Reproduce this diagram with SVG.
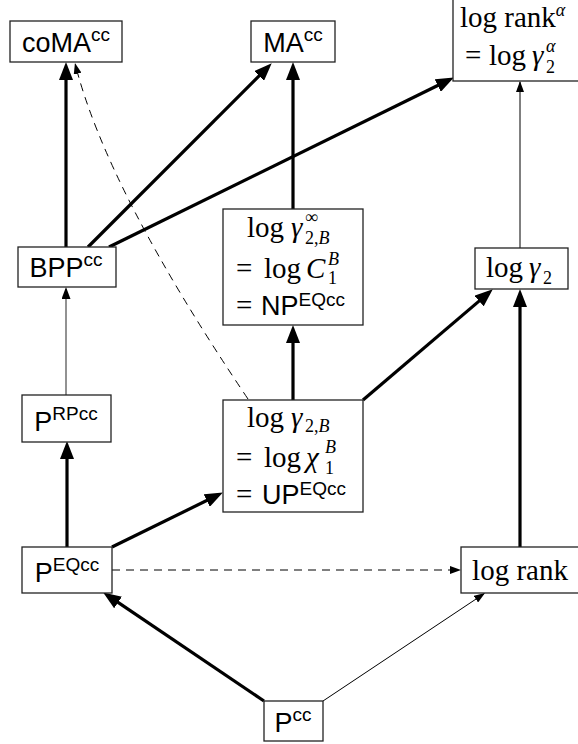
<svg xmlns="http://www.w3.org/2000/svg" width="578" height="744" viewBox="0 0 578 744">
<defs>
<style>
.box{fill:#fff;stroke:#222;stroke-width:1.3}
.sf{font-family:"Liberation Sans",Arial,sans-serif;font-size:27px;fill:#000}
.sup{font-size:19px}
.m{font-family:"Liberation Serif","Times New Roman",serif;font-size:29px;fill:#000}
.it{font-style:italic}
.s{font-size:18px}
.thick{stroke:#000;stroke-width:3.2;fill:none}
.thin{stroke:#000;stroke-width:1;fill:none}
.gray{stroke:#777;stroke-width:1.6;fill:none}
.dash{stroke:#000;stroke-width:1;fill:none;stroke-dasharray:8,6}
</style>
<marker id="ah" markerUnits="userSpaceOnUse" markerWidth="18" markerHeight="14" refX="13" refY="7" orient="auto"><path d="M0,0 L18,7 L0,14 z" fill="#000"/></marker>
<marker id="at" markerUnits="userSpaceOnUse" markerWidth="11" markerHeight="8" refX="10" refY="4" orient="auto"><path d="M0,0 L11,4 L0,8 z" fill="#000"/></marker>
<marker id="ag" markerUnits="userSpaceOnUse" markerWidth="12" markerHeight="9" refX="10" refY="4.5" orient="auto"><path d="M0,0 L12,4.5 L0,9 z" fill="#000"/></marker>
</defs>
<g id="connectors">
<line class="thick" x1="66" y1="247" x2="66" y2="67" marker-end="url(#ah)"/>
<line class="thick" x1="88" y1="247" x2="268.2" y2="66.8" marker-end="url(#ah)"/>
<line class="thick" x1="109" y1="247" x2="449.4" y2="79.8" marker-end="url(#ah)"/>
<line class="thick" x1="293" y1="209" x2="293" y2="67" marker-end="url(#ah)"/>
<line class="thin" x1="520" y1="248" x2="520" y2="82" marker-end="url(#at)"/>
<line class="gray" x1="66" y1="395" x2="66" y2="289" marker-end="url(#ag)"/>
<line class="thick" x1="293" y1="400" x2="293" y2="330" marker-end="url(#ah)"/>
<line class="thick" x1="363" y1="400" x2="489" y2="292.6" marker-end="url(#ah)"/>
<path class="dash" d="M248,399 Q107,190 75.2,64" marker-end="url(#at)"/>
<line class="thick" x1="67" y1="547" x2="67" y2="446" marker-end="url(#ah)"/>
<line class="thick" x1="112" y1="547" x2="218.4" y2="494.8" marker-end="url(#ah)"/>
<line class="dash" x1="112" y1="570" x2="460" y2="570" marker-end="url(#at)"/>
<line class="thick" x1="520" y1="547" x2="520" y2="294" marker-end="url(#ah)"/>
<line class="thick" x1="264" y1="701" x2="107.3" y2="595.2" marker-end="url(#ah)"/>
<line class="thin" x1="323" y1="701" x2="484.2" y2="593.6" marker-end="url(#at)"/>
</g>
<g id="coMA">
<rect class="box" x="10" y="21" width="112" height="41"/>
<text class="sf" x="66" y="52" text-anchor="middle">coMA<tspan class="sup" dy="-11">cc</tspan></text>
</g>
<g id="MA">
<rect class="box" x="251" y="21" width="84" height="41"/>
<text class="sf" x="293" y="52" text-anchor="middle">MA<tspan class="sup" dy="-11">cc</tspan></text>
</g>
<g id="logrankalpha">
<rect class="box" x="453" y="-2" width="140" height="83"/>
<text class="m" x="460" y="27">log rank<tspan class="s it" dy="-11">α</tspan></text>
<text class="m" x="465" y="65">=</text>
<text class="m" x="489" y="65">log</text>
<text class="m it" x="532" y="65">γ</text>
<text class="m s it" x="546" y="52">α</text>
<text class="m s" x="546" y="73">2</text>
</g>
<g id="BPP">
<rect class="box" x="18" y="247" width="98" height="40"/>
<text class="sf" x="66" y="277" text-anchor="middle">BPP<tspan class="sup" dy="-11">cc</tspan></text>
</g>
<g id="gammainf">
<rect class="box" x="223" y="209" width="140" height="116"/>
<text class="m" x="247" y="237">log</text>
<text class="m it" x="291" y="237">γ</text>
<text class="m s" x="305" y="223">∞</text>
<text class="m s" x="305" y="244">2,<tspan class="it">B</tspan></text>
<text class="m" x="236" y="278">=</text>
<text class="m" x="264" y="278">log</text>
<text class="m it" x="306" y="278">C</text>
<text class="m s it" x="328" y="265">B</text>
<text class="m s" x="328" y="284">1</text>
<text class="m" x="236" y="315">=</text>
<text class="sf" x="261" y="315">NP<tspan class="sup" dy="-9">EQcc</tspan></text>
</g>
<g id="gamma2">
<rect class="box" x="475" y="248" width="93" height="41"/>
<text class="m" x="486" y="277">log</text>
<text class="m it" x="529" y="277">γ</text>
<text class="m s" x="543" y="284">2</text>
</g>
<g id="PRP">
<rect class="box" x="22" y="395" width="89" height="47"/>
<text class="sf" x="66" y="431" text-anchor="middle">P<tspan class="sup" dy="-11">RPcc</tspan></text>
</g>
<g id="gamma2B">
<rect class="box" x="223" y="400" width="140" height="112"/>
<text class="m" x="247" y="427">log</text>
<text class="m it" x="291" y="427">γ</text>
<text class="m s" x="305" y="432">2,<tspan class="it">B</tspan></text>
<text class="m" x="236" y="467">=</text>
<text class="m" x="264" y="467">log</text>
<text class="m it" x="306" y="467">χ</text>
<text class="m s it" x="325" y="453">B</text>
<text class="m s" x="325" y="474">1</text>
<text class="m" x="236" y="504">=</text>
<text class="sf" x="262" y="504">UP<tspan class="sup" dy="-9">EQcc</tspan></text>
</g>
<g id="PEQ">
<rect class="box" x="22" y="547" width="90" height="46"/>
<text class="sf" x="67" y="582" text-anchor="middle">P<tspan class="sup" dy="-11">EQcc</tspan></text>
</g>
<g id="logrank">
<rect class="box" x="461" y="547" width="125" height="46"/>
<text class="m" x="520" y="580" text-anchor="middle">log rank</text>
</g>
<g id="Pcc">
<rect class="box" x="264" y="701" width="59" height="40"/>
<text class="sf" x="293" y="732" text-anchor="middle">P<tspan class="sup" dy="-11">cc</tspan></text>
</g>
</svg>
